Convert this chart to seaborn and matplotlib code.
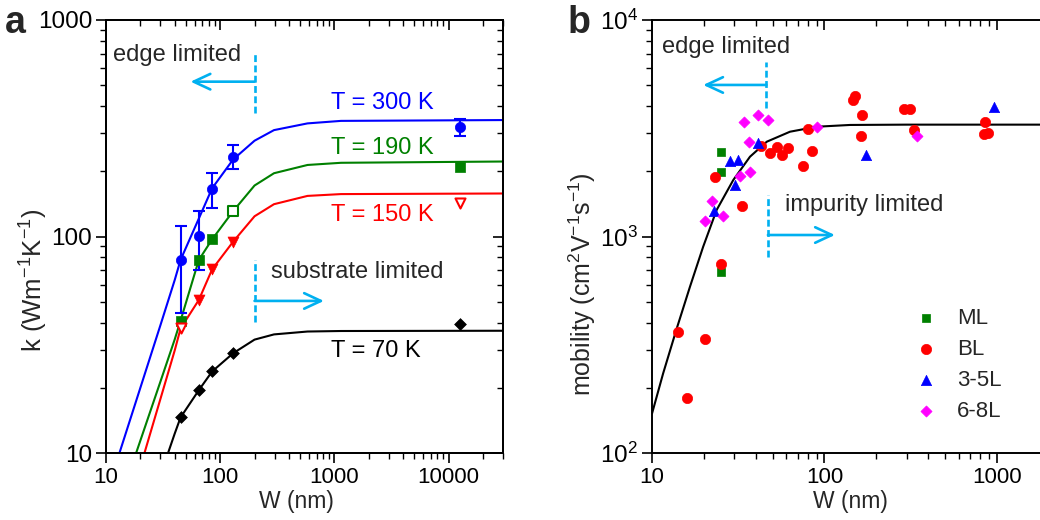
import numpy as np
import matplotlib
matplotlib.use("Agg")
import matplotlib.pyplot as plt
import matplotlib.ticker as mticker
import seaborn as sns

# ---- panel a: thermal conductivity vs width ----
w_fit = [10, 30, 40, 45, 65, 85, 130, 200, 296, 582, 1143, 30000]
k_fit_300 = [6.4, 39, 63, 78, 121, 167, 227, 277, 310, 333, 342, 345]
k_fit_190 = [3.9, 21.4, 33.5, 40.9, 77.9, 97, 131, 172, 196, 214, 219, 222]
k_fit_150 = [2.5, 17.8, 29.8, 37.6, 50.9, 70.5, 94.7, 124, 141, 154, 157, 158]
k_fit_70 = [np.nan, 7.9, 12.3, 14.6, 19.5, 23.8, 28.9, 33.4, 35.3, 36.4, 36.6, 36.7]

w_meas = [45, 65, 85, 130, 12500]
k_300 = [77.9, 100.5, 166, 234, 319]
k_300_lo = [44.5, 70, 135, 204, 291]
k_300_hi = [112, 131.6, 196, 265, 348]
k_190 = [40.9, 77.9, 97, 131, 209]
k_190_open = [False, False, False, True, False]
k_150 = [37.6, 50.9, 70.5, 94.7, 143]
k_150_open = [True, False, False, False, True]
k_70 = [14.6, 19.5, 23.8, 28.9, 39.5]

temp_labels = ["T = 300 K", "T = 190 K", "T = 150 K", "T = 70 K"]

# ---- panel b: mobility vs width ----
w_ml = [25.1, 25.1, 25.1]
mu_ml = [2465, 1992, 688]
w_bl = [14.1, 16.0, 20.2, 23.1, 25.2, 33.3, 42.6, 48.3, 52.9, 56.9, 61.3, 75.4,
        85.2, 80.2, 146, 151, 165.5, 162, 290, 314, 331, 855, 844, 883]
mu_bl = [361, 180, 335, 1883, 743, 1386, 2618, 2430, 2577, 2390, 2572, 2124,
         2483, 3125, 4271, 4456, 3654, 2912, 3895, 3895, 3104, 3368, 2985, 3017]
w_35 = [23.0, 28.2, 31.4, 30.2, 41.1, 174, 957]
mu_35 = [1316, 2225, 2264, 1735, 2705, 2379, 3951]
w_68 = [20.2, 22.2, 25.9, 32.4, 37.2, 36.3, 34.3, 41.4, 47.3, 91, 342]
mu_68 = [1179, 1466, 1248, 1905, 1990, 2724, 3364, 3640, 3435, 3194, 2912]

w_mu_fit = [10, 11.6, 13.9, 16.6, 19.8, 23.7, 29.6, 37.0, 46.3, 63.1, 90.2, 140.6, 300, 2000]
mu_fit = [152, 233, 375, 586, 897, 1326, 1824, 2337, 2741, 3048, 3214, 3275, 3286, 3286]

BLUE, GREEN, RED, BLACK, MAGENTA = "#0000FF", "#008000", "#FF0000", "#000000", "#FF00FF"
SKY = "#00B0F0"

sns.set_style("ticks")
plt.rcParams["font.family"] = ["Liberation Sans", "DejaVu Sans"]
plt.rcParams["mathtext.fontset"] = "custom"
plt.rcParams["mathtext.rm"] = "Liberation Sans"
plt.rcParams["mathtext.it"] = "Liberation Sans:italic"
plt.rcParams["mathtext.bf"] = "Liberation Sans:bold"
plt.rcParams.update({
    "axes.edgecolor": "black", "axes.linewidth": 1.2,
    "xtick.color": "black", "ytick.color": "black",
    "xtick.bottom": True, "ytick.left": True,
    "xtick.direction": "out", "ytick.direction": "out",
    "xtick.major.size": 7, "ytick.major.size": 7,
    "xtick.minor.size": 4, "ytick.minor.size": 4,
    "xtick.major.width": 1.2, "ytick.major.width": 1.2,
    "xtick.minor.width": 1.0, "ytick.minor.width": 1.0,
})

fig = plt.figure(figsize=(10.4, 5.2), dpi=100)
ax_a = fig.add_axes([106 / 1040, 67 / 520, 397 / 1040, 433 / 520])
ax_b = fig.add_axes([652 / 1040, 67 / 520, 389 / 1040, 433 / 520])


def style_axis(ax):
    ax.set_xscale("log")
    ax.set_yscale("log")
    ax.tick_params(axis="x", which="major", labelsize=16, pad=3,
                   bottom=True, top=False)
    ax.tick_params(axis="y", which="major", labelsize=17.5, pad=3,
                   left=True, right=False)
    ax.tick_params(axis="x", which="minor", bottom=True, top=False)
    ax.tick_params(axis="y", which="minor", left=True, right=False)


def mirror_ticks(ax, right=True):
    # inward ticks on the top (and right) edge, Origin style
    tx = ax.twiny()
    tx.set_xscale("log")
    tx.set_xlim(ax.get_xlim())
    tx.tick_params(axis="x", which="both", direction="in", top=True, bottom=False,
                   labeltop=False, labelbottom=False)
    tx.tick_params(axis="y", which="both", left=False, right=False,
                   labelleft=False, labelright=False)
    tx.xaxis.set_minor_formatter(mticker.NullFormatter())
    if right:
        ty = ax.twinx()
        ty.set_yscale("log")
        ty.set_ylim(ax.get_ylim())
        ty.tick_params(axis="y", which="both", direction="in", right=True, left=False,
                       labelright=False, labelleft=False)
        ty.tick_params(axis="x", which="both", top=False, bottom=False,
                       labeltop=False, labelbottom=False)
        ty.yaxis.set_minor_formatter(mticker.NullFormatter())
    else:
        for a in (ax, tx):
            a.spines["right"].set_visible(False)


def dashed_marker(ax, x, y0, y1):
    ax.plot([x, x], [y0, y1], color=SKY, lw=1.9, linestyle=(0, (2.6, 1.3)))


def arrow(ax, x0, x1, y):
    ax.annotate("", xy=(x1, y), xytext=(x0, y),
                arrowprops=dict(arrowstyle="->,head_length=0.6,head_width=0.28",
                                color=SKY, lw=1.9, mutation_scale=20,
                                shrinkA=0, shrinkB=0))


fmt = mticker.FuncFormatter(lambda v, p: f"{v:g}")

# ---------------- panel a ----------------
ax = ax_a
style_axis(ax)
for kfit, col in [(k_fit_300, BLUE), (k_fit_190, GREEN), (k_fit_150, RED), (k_fit_70, BLACK)]:
    sns.lineplot(x=w_fit, y=kfit, ax=ax, color=col, lw=1.5, estimator=None, sort=False)

ax.errorbar(w_meas, k_300,
            yerr=[np.array(k_300) - np.array(k_300_lo), np.array(k_300_hi) - np.array(k_300)],
            fmt="none", ecolor=BLUE, elinewidth=1.5, capsize=4.5, capthick=1.5, zorder=3)
sns.scatterplot(x=w_meas, y=k_300, ax=ax, marker="o", s=55, color=BLUE,
                edgecolor=BLUE, linewidth=0.5, zorder=4)

w_arr = np.array(w_meas)
k190 = np.array(k_190)
o190 = np.array(k_190_open)
sns.scatterplot(x=w_arr[~o190], y=k190[~o190], ax=ax, marker="s", s=50, color=GREEN,
                edgecolor=GREEN, linewidth=0.5, zorder=4)
sns.scatterplot(x=w_arr[o190], y=k190[o190], ax=ax, marker="s", s=42, color="white",
                edgecolor=GREEN, linewidth=1.5, zorder=4)

k150 = np.array(k_150)
o150 = np.array(k_150_open)
sns.scatterplot(x=w_arr[~o150], y=k150[~o150], ax=ax, marker="v", s=62, color=RED,
                edgecolor=RED, linewidth=0.5, zorder=4)
sns.scatterplot(x=w_arr[o150], y=k150[o150], ax=ax, marker="v", s=52, color="white",
                edgecolor=RED, linewidth=1.5, zorder=4)

sns.scatterplot(x=w_meas, y=k_70, ax=ax, marker="D", s=36, color=BLACK,
                edgecolor=BLACK, linewidth=0.5, zorder=4)

ax.set_xlim(10, 30000)
ax.set_ylim(10, 1000)
ax.xaxis.set_major_formatter(fmt)
ax.yaxis.set_major_formatter(fmt)
ax.xaxis.set_minor_formatter(mticker.NullFormatter())
ax.yaxis.set_minor_formatter(mticker.NullFormatter())
ax.set_xlabel("W (nm)", fontsize=16.5)
ax.set_ylabel(r"k (Wm$^{\mathregular{-1}}$K$^{\mathregular{-1}}$)", fontsize=18.5)
ax.xaxis.set_label_coords(0.48, -0.085)
ax.yaxis.set_label_coords(-0.14, 0.40)

for lab, col, yy in zip(temp_labels, [BLUE, GREEN, RED, BLACK], [414, 256, 126, 29.6]):
    ax.text(930, yy, lab, color=col, fontsize=17, ha="left", va="center")

ax.text(11.5, 690, "edge limited", fontsize=17, ha="left", va="center")
dashed_marker(ax, 200, 372, 711)
arrow(ax, 200, 55, 519)
ax.text(277, 68.6, "substrate limited", fontsize=17, ha="left", va="center")
dashed_marker(ax, 200, 40.3, 77.8)
arrow(ax, 200, 811, 50.4)
mirror_ticks(ax, right=True)

# ---------------- panel b ----------------
ax = ax_b
style_axis(ax)
sns.lineplot(x=w_mu_fit, y=mu_fit, ax=ax, color=BLACK, lw=1.5, estimator=None, sort=False)
sns.scatterplot(x=w_ml, y=mu_ml, ax=ax, marker="s", s=34, color=GREEN,
                edgecolor=GREEN, linewidth=0.5, label="ML", zorder=4)
sns.scatterplot(x=w_bl, y=mu_bl, ax=ax, marker="o", s=55, color=RED,
                edgecolor=RED, linewidth=0.5, label="BL", zorder=4)
sns.scatterplot(x=w_35, y=mu_35, ax=ax, marker="^", s=55, color=BLUE,
                edgecolor=BLUE, linewidth=0.5, label="3-5L", zorder=4)
sns.scatterplot(x=w_68, y=mu_68, ax=ax, marker="D", s=32, color=MAGENTA,
                edgecolor=MAGENTA, linewidth=0.5, label="6-8L", zorder=4)

ax.set_xlim(10, 1800)
ax.set_ylim(100, 10000)
ax.xaxis.set_major_formatter(fmt)
ax.xaxis.set_minor_formatter(mticker.NullFormatter())
ax.yaxis.set_minor_formatter(mticker.NullFormatter())
ax.set_xlabel("W (nm)", fontsize=16.5)
ax.set_ylabel(r"mobility (cm$^{\mathregular{2}}$V$^{\mathregular{-1}}$s$^{\mathregular{-1}}$)", fontsize=18)
ax.xaxis.set_label_coords(0.51, -0.085)
ax.yaxis.set_label_coords(-0.138, 0.39)

ax.legend(loc="upper left", bbox_to_anchor=(0.642, 0.36), frameon=False, fontsize=16,
          handletextpad=0.8, labelspacing=0.45, borderpad=0, handlelength=1.2)

ax.text(11.4, 7500, "edge limited", fontsize=17, ha="left", va="center")
dashed_marker(ax, 46, 3923, 6397)
arrow(ax, 46, 19.8, 5012)
ax.text(59, 1398, "impurity limited", fontsize=17, ha="left", va="center")
dashed_marker(ax, 47, 804, 1555)
arrow(ax, 47, 115, 1016)
mirror_ticks(ax, right=False)

fig.text(0.005, 0.99, "a", fontsize=27, fontweight="bold", ha="left", va="top")
fig.text(0.546, 0.99, "b", fontsize=27, fontweight="bold", ha="left", va="top")

fig.savefig("out.png", dpi=100)
plt.close(fig)
